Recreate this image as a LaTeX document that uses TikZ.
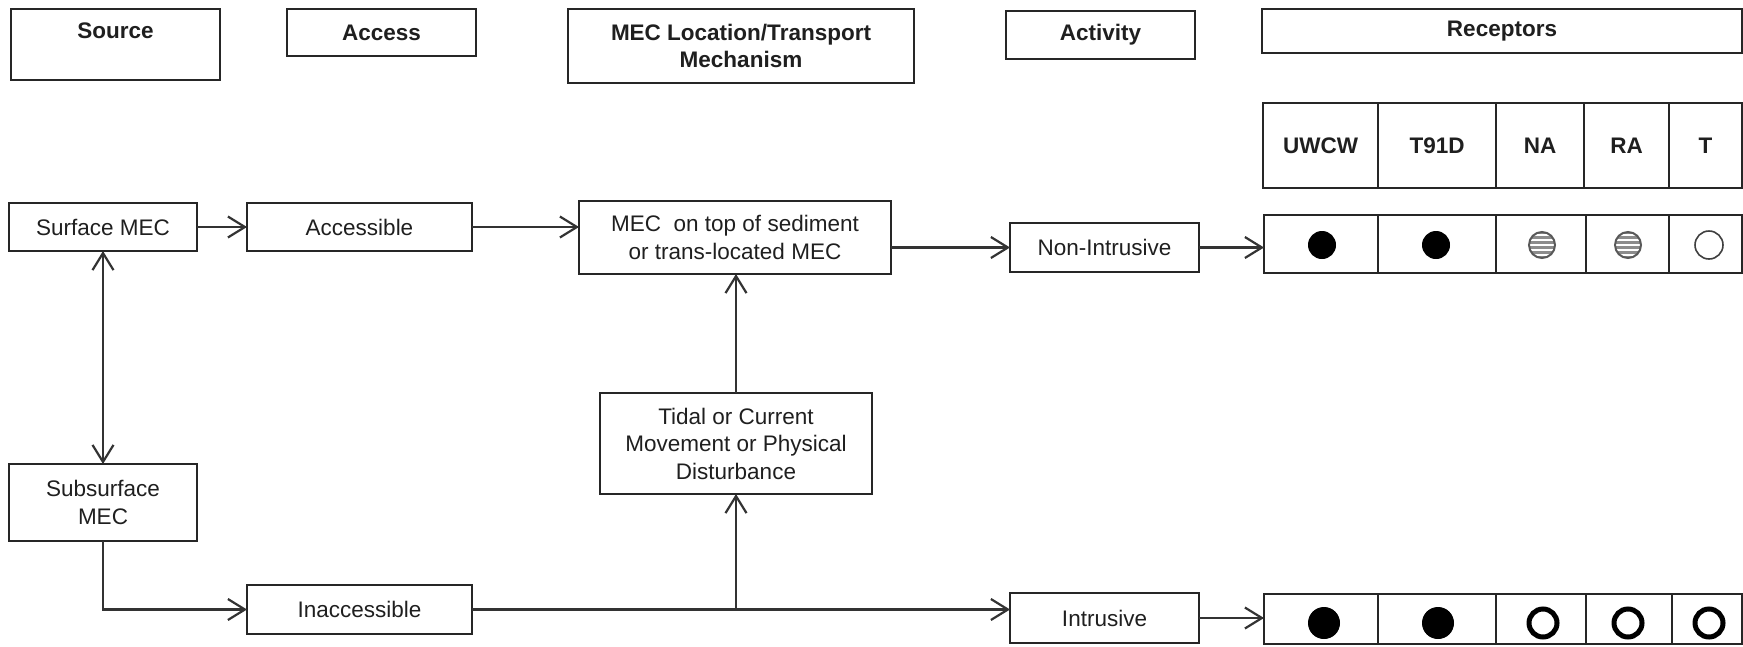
\documentclass[tikz,border=0pt]{standalone}
\usepackage{fontspec}
\setmainfont{Liberation Sans}
\usetikzlibrary{arrows.meta}

\begin{document}
\begin{tikzpicture}[x=1pt,y=-1pt,
  every node/.style={font=\fontsize{22.5}{27.5}\selectfont, text=black!88,
    inner sep=0pt, outer sep=0pt},
  box/.style={draw=black!85, rectangle, align=center, line width=2.2pt},
  head/.style={box, font=\bfseries\fontsize{22.5}{27.5}\selectfont},
  cell/.style={draw=black!85, rectangle, line width=2pt},
  hcell/.style={cell, font=\bfseries\fontsize{22.5}{27.5}\selectfont},
  tip/.style={Straight Barb[length=17pt,width=21pt,line width=2.2pt]},
  link/.style={draw=black!80, line width=2.2pt, -{Straight Barb[length=17pt,width=21pt]}},
  linkboth/.style={draw=black!80, line width=2.2pt,
    {Straight Barb[length=17pt,width=21pt]}-{Straight Barb[length=17pt,width=21pt]}},
  plain/.style={draw=black!80, line width=2.2pt},
  full/.style={circle, fill=black, draw=black, line width=1pt},
  ring/.style={circle, draw=black, line width=5pt, minimum size=28pt},
  thinring/.style={circle, draw=black!75, line width=1.6pt, minimum size=28pt},
  striped/.style={circle, draw=black!65, line width=2pt, minimum size=26pt,
    fill=black!45,
    path picture={
      \foreach \k in {-10,-5,...,10}
        \draw[white, line width=1.3pt]
          ([yshift=\k pt]path picture bounding box.west) --
          ([yshift=\k pt]path picture bounding box.east);
    }},
]
\useasboundingbox (0,0) rectangle (1743,646);

% column headings
\node[head, minimum width=209pt, minimum height=71pt] (hSource) at (115.5,44.5) {Source\\~};
\node[head, minimum width=189pt, minimum height=47pt] (hAccess) at (381.5,32.5) {Access};
\node[head, minimum width=346pt, minimum height=74pt] (hMech) at (741,46) {MEC Location/Transport\\Mechanism};
\node[head, minimum width=189pt, minimum height=48pt] (hAct) at (1100.5,35) {Activity};
\node[head, minimum width=480pt, minimum height=44pt] (hRec) at (1502,31) {Receptors};

% receptor codes
\node[hcell, minimum width=115pt, minimum height=85pt] (hU) at (1320.5,145.5) {UWCW};
\node[hcell, minimum width=118pt, minimum height=85pt] (hT) at (1437,145.5) {T91D};
\node[hcell, minimum width=88pt, minimum height=85pt] (hN) at (1540,145.5) {NA};
\node[hcell, minimum width=85pt, minimum height=85pt] (hR) at (1626.5,145.5) {RA};
\node[hcell, minimum width=73pt, minimum height=85pt] (hX) at (1705.5,145.5) {T};

% source / access / mechanism / activity boxes
\node[box, minimum width=188pt, minimum height=48pt] (surf) at (103,227) {Surface MEC};
\node[box, minimum width=225pt, minimum height=48pt] (acc) at (359.5,227) {Accessible};
\node[box, minimum width=312pt, minimum height=73pt] (mec) at (735,237.5) {MEC~~on top of sediment\\or trans-located MEC};
\node[box, minimum width=189pt, minimum height=49pt] (nonint) at (1104.5,247.5) {Non-Intrusive};
\node[box, minimum width=188pt, minimum height=77pt] (sub) at (103,502.5) {Subsurface\\MEC};
\node[box, minimum width=225pt, minimum height=49pt] (inacc) at (359.5,609.5) {Inaccessible};
\node[box, minimum width=272pt, minimum height=101pt] (tidal) at (736,443.5) {Tidal or Current\\Movement or Physical\\Disturbance};
\node[box, minimum width=189pt, minimum height=50pt] (intr) at (1104.5,618) {Intrusive};

% receptor row for non-intrusive activity
\node[cell, minimum width=114pt, minimum height=58pt] (a1) at (1321,244) {};
\node[cell, minimum width=118pt, minimum height=58pt] (a2) at (1437,244) {};
\node[cell, minimum width=90pt, minimum height=58pt] (a3) at (1541,244) {};
\node[cell, minimum width=83pt, minimum height=58pt] (a4) at (1627.5,244) {};
\node[cell, minimum width=73pt, minimum height=58pt] (a5) at (1705.5,244) {};
\node[full, minimum size=27pt] (a1d) at (1322,245) {};
\node[full, minimum size=27pt] (a2d) at (1436,245) {};
\node[striped] (a3d) at (1542,245) {};
\node[striped] (a4d) at (1628,245) {};
\node[thinring] (a5d) at (1709,245) {};

% receptor row for intrusive activity
\node[cell, minimum width=114pt, minimum height=50pt] (b1) at (1321,619) {};
\node[cell, minimum width=118pt, minimum height=50pt] (b2) at (1437,619) {};
\node[cell, minimum width=90pt, minimum height=50pt] (b3) at (1541,619) {};
\node[cell, minimum width=86pt, minimum height=50pt] (b4) at (1629,619) {};
\node[cell, minimum width=70pt, minimum height=50pt] (b5) at (1707,619) {};
\node[full, minimum size=31pt] (b1d) at (1324,623) {};
\node[full, minimum size=31pt] (b2d) at (1438,623) {};
\node[ring] (b3d) at (1543,623) {};
\node[ring] (b4d) at (1628,623) {};
\node[ring] (b5d) at (1709,623) {};

% connectors
\draw[link] (surf) -- (acc);
\draw[link] (acc.east) -- (acc.east -| mec.west);
\draw[link] (nonint.west -| mec.east) -- (nonint.west);
\draw[link] (nonint.east) -- (nonint.east -| a1.west);
\draw[linkboth] (surf.south) -- (sub.north);
\draw[link] (sub.south) |- (inacc.west);
\coordinate (j) at (tidal.south |- inacc.east);
\draw[link] (inacc.east) -- (inacc.east -| intr.west);
\draw[link] (j) -- (tidal.south);
\draw[link] (tidal.north) -- (tidal.north |- mec.south);
\draw[link] (intr.east) -- (intr.east -| b1.west);
\end{tikzpicture}
\end{document}
